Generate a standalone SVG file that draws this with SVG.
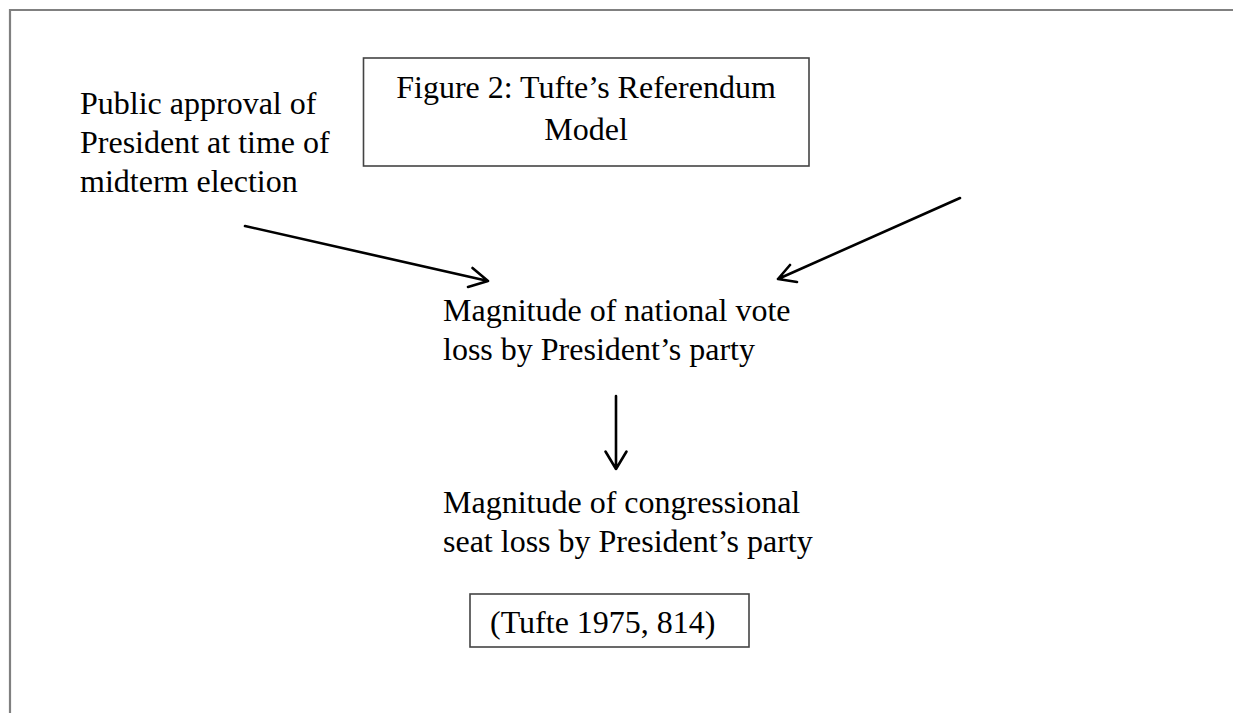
<svg xmlns="http://www.w3.org/2000/svg" width="1233" height="713" viewBox="0 0 1233 713">
<style>
  text { font-family: "Liberation Serif", "Times New Roman", serif; font-size: 32px; fill: #000; }
  .box { fill: #fff; stroke: #444; stroke-width: 1.6; }
  .frame { fill: none; stroke: #808080; stroke-width: 2.2; }
  .conn { fill: none; stroke: #000; stroke-width: 2.6; stroke-linecap: round; stroke-linejoin: round; }
</style>
<rect width="1233" height="713" fill="#fff"/>
<path class="frame" d="M10,713 V10 H1233"/>
<g id="title">
  <rect class="box" x="363.5" y="58" width="445.5" height="108"/>
  <text x="586" y="98" text-anchor="middle">Figure 2: Tufte’s Referendum</text>
  <text x="586" y="140" text-anchor="middle">Model</text>
</g>
<g id="approval">
  <text x="80" y="114">Public approval of</text>
  <text x="80" y="153">President at time of</text>
  <text x="80" y="192">midterm election</text>
</g>
<g id="vote-loss">
  <text x="443" y="321">Magnitude of national vote</text>
  <text x="443" y="360">loss by President’s party</text>
</g>
<g id="seat-loss">
  <text x="443" y="512.5">Magnitude of congressional</text>
  <text x="443" y="551.5">seat loss by President’s party</text>
</g>
<g id="citation">
  <rect class="box" x="470" y="594" width="279" height="53"/>
  <text x="490" y="633">(Tufte 1975, 814)</text>
</g>
<g id="connectors">
  <path class="conn" d="M245,226 L488,281 M472.5,268 L488,281 L468,287"/>
  <path class="conn" d="M960,198 L778,279 M790,265 L778,279 L797,282"/>
  <path class="conn" d="M616,396 L616,469 M605.5,451.5 L616,469 L626.5,451.5"/>
</g>
</svg>
